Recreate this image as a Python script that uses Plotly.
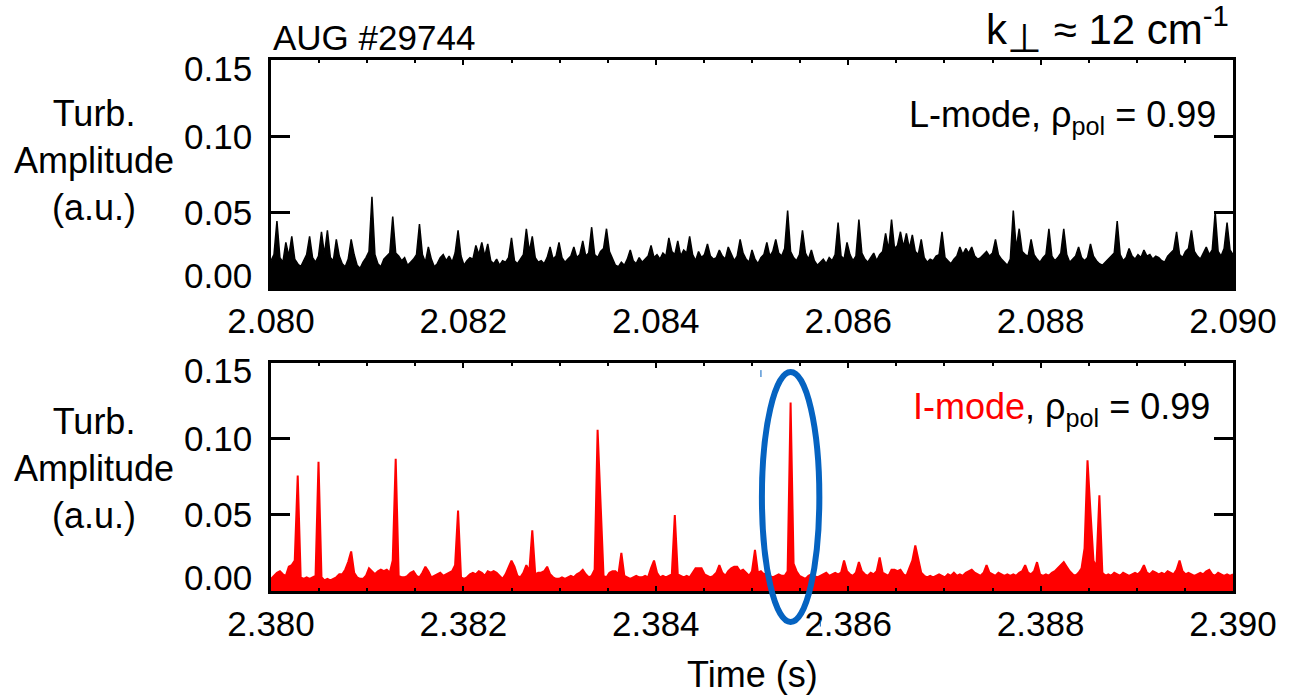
import numpy as np
import plotly.graph_objects as go
from plotly.subplots import make_subplots

# Turbulence amplitude envelopes, in units of 1e-3 (a.u.), sampled on a uniform time grid
amp_lmode_milli = [
    18, 22, 44, 20, 17, 30, 21, 34, 19, 16, 14, 18, 22, 34, 20, 17, 21, 37, 22, 38, 20, 18, 32, 21, 16,
    14, 19, 32, 22, 15, 13, 17, 20, 24, 60, 22, 16, 14, 19, 21, 23, 47, 23, 21, 18, 20, 15, 17, 19, 22,
    42, 22, 17, 27, 19, 14, 16, 20, 22, 18, 21, 17, 23, 38, 21, 15, 18, 20, 19, 28, 22, 30, 21, 29, 18,
    16, 19, 15, 18, 17, 20, 33, 18, 16, 19, 22, 39, 24, 34, 20, 17, 18, 16, 20, 27, 19, 21, 30, 20, 17,
    19, 21, 27, 20, 22, 31, 21, 23, 40, 22, 20, 24, 26, 39, 24, 19, 15, 14, 17, 15, 19, 25, 18, 16, 20,
    17, 19, 21, 28, 20, 22, 19, 23, 21, 33, 24, 22, 31, 21, 25, 23, 34, 22, 18, 24, 20, 22, 29, 21, 19,
    20, 25, 21, 19, 27, 22, 18, 21, 32, 23, 19, 17, 25, 19, 16, 20, 22, 30, 21, 24, 32, 23, 21, 26, 51,
    24, 20, 18, 22, 38, 23, 19, 25, 18, 15, 17, 19, 16, 20, 18, 22, 43, 21, 19, 30, 22, 18, 21, 45, 23,
    19, 17, 20, 23, 18, 22, 24, 36, 25, 45, 26, 28, 37, 27, 36, 26, 35, 24, 22, 32, 20, 17, 19, 18, 21,
    22, 37, 20, 18, 16, 19, 21, 27, 22, 26, 23, 27, 21, 19, 20, 22, 24, 21, 23, 32, 22, 19, 17, 15, 19,
    51, 26, 39, 24, 22, 21, 32, 22, 19, 17, 20, 22, 39, 21, 18, 20, 23, 39, 22, 17, 19, 21, 27, 20, 18,
    20, 29, 21, 18, 16, 15, 17, 19, 21, 23, 44, 22, 18, 20, 26, 21, 19, 22, 20, 25, 21, 22, 19, 21, 20,
    18, 17, 21, 23, 25, 37, 22, 20, 24, 26, 38, 24, 21, 19, 23, 27, 22, 25, 50, 24, 21, 26, 43, 25, 22,
]

amp_imode_milli = [
    8, 10, 12, 13, 11, 10, 16, 17, 20, 76, 9, 8, 9, 8, 9, 10, 85, 9, 7, 8, 7, 8, 9, 11, 11,
    14, 19, 26, 12, 9, 8, 8, 10, 15, 13, 11, 13, 14, 13, 14, 12, 20, 87, 10, 9, 9, 10, 12, 13, 10,
    9, 12, 16, 13, 9, 10, 11, 12, 10, 11, 12, 13, 17, 53, 9, 8, 9, 11, 12, 11, 13, 12, 10, 13, 12,
    13, 12, 10, 8, 11, 15, 20, 16, 10, 9, 12, 17, 13, 40, 11, 12, 12, 13, 16, 11, 9, 8, 8, 9, 8,
    9, 10, 9, 11, 12, 14, 11, 9, 10, 14, 106, 52, 10, 9, 12, 13, 13, 11, 25, 10, 9, 8, 9, 10, 9,
    9, 10, 9, 15, 20, 12, 9, 10, 9, 10, 11, 50, 11, 10, 9, 10, 9, 12, 15, 15, 15, 11, 10, 9, 10,
    12, 17, 12, 10, 13, 15, 16, 16, 13, 14, 12, 10, 13, 27, 12, 13, 11, 12, 10, 9, 10, 11, 10, 10, 13,
    124, 18, 13, 10, 9, 8, 10, 11, 10, 9, 10, 11, 12, 10, 11, 12, 11, 12, 20, 13, 11, 10, 12, 19, 13,
    11, 10, 12, 11, 13, 22, 12, 11, 10, 14, 14, 13, 14, 11, 10, 15, 20, 30, 21, 12, 10, 9, 10, 9, 10,
    11, 10, 9, 11, 10, 12, 10, 11, 10, 12, 13, 14, 12, 11, 10, 12, 17, 12, 11, 10, 12, 11, 10, 11, 10,
    11, 10, 12, 13, 17, 12, 11, 13, 19, 11, 10, 11, 10, 12, 13, 15, 17, 19, 16, 13, 11, 10, 12, 15, 28,
    86, 52, 20, 16, 63, 12, 10, 11, 10, 12, 11, 10, 12, 11, 10, 11, 12, 11, 13, 17, 12, 11, 13, 12, 11,
    12, 11, 13, 12, 11, 14, 20, 13, 11, 12, 11, 10, 11, 12, 11, 13, 14, 11, 10, 12, 11, 10, 11, 10, 11,
]

# Time windows (s)
lmode_window = [2.080, 2.090]
imode_window = [2.380, 2.390]

# Axis ticks
y_tick_vals = [0.00, 0.05, 0.10, 0.15]
y_tick_text = ["0.00", "0.05", "0.10", "0.15"]
x_tick_step = 0.002

FONT = "Liberation Sans, Arial, Helvetica, sans-serif"

amp_l = np.array(amp_lmode_milli) * 1e-3
amp_i = np.array(amp_imode_milli) * 1e-3
t_l = np.linspace(lmode_window[0], lmode_window[1], len(amp_l))
t_i = np.linspace(imode_window[0], imode_window[1], len(amp_i))

fig = make_subplots(rows=2, cols=1, vertical_spacing=0.1412)
fig.update_layout(
    width=1289, height=697,
    margin=dict(l=271, r=46, t=60, b=106),
    paper_bgcolor="white", plot_bgcolor="white",
    showlegend=False,
    font=dict(family=FONT, size=34, color="black"),
)
fig.update_yaxes(domain=[0.5706, 1.0], row=1, col=1)
fig.update_yaxes(domain=[0.0, 0.4294], row=2, col=1)

fig.add_trace(go.Scatter(
    x=t_l, y=amp_l, mode="lines",
    line=dict(color="black", width=1.5),
    fill="tozeroy", fillcolor="black",
), row=1, col=1)

fig.add_trace(go.Scatter(
    x=t_i, y=amp_i, mode="lines",
    line=dict(color="#FF0000", width=2),
    fill="tozeroy", fillcolor="#FF0000",
), row=2, col=1)

for r, win in ((1, lmode_window), (2, imode_window)):
    ticks = np.round(np.arange(win[0], win[1] + 1e-9, x_tick_step), 3)
    fig.update_xaxes(
        range=win, tickvals=ticks, tickformat=".3f",
        showline=True, linewidth=3, linecolor="black", mirror="allticks",
        ticks="inside", ticklen=5, tickwidth=2, tickcolor="black",
        minor=dict(dtick=0.0005, ticks="inside", ticklen=3, tickwidth=1.5, tickcolor="black"),
        showgrid=False, zeroline=False,
        tickfont=dict(family=FONT, size=35),
        row=r, col=1,
    )
    fig.update_yaxes(
        range=[0, 0.15], tickvals=y_tick_vals, showticklabels=False,
        showline=True, linewidth=3, linecolor="black", mirror="allticks",
        ticks="inside", ticklen=19, tickwidth=3, tickcolor="black",
        showgrid=False, zeroline=False,
        row=r, col=1,
    )

# y tick labels (end labels pulled inward)
shifts = {0.00: 13, 0.05: 0, 0.10: 0, 0.15: -8}
for xr, yr in (("x", "y"), ("x2", "y2")):
    for v, txt in zip(y_tick_vals, y_tick_text):
        fig.add_annotation(
            text=txt, xref=f"{xr} domain", x=0, xanchor="right", xshift=-17,
            yref=yr, y=v, yanchor="middle", yshift=shifts[v],
            showarrow=False, font=dict(family=FONT, size=35),
        )

# y-axis titles
for yp in (0.81, 0.23):
    fig.add_annotation(
        text="Turb.<br>Amplitude<br>(a.u.)", xref="paper", x=-0.184, xanchor="center",
        yref="paper", y=yp, yanchor="middle", showarrow=False,
        font=dict(family=FONT, size=36),
    )

fig.add_annotation(
    text="Time (s)", xref="paper", x=0.5, xanchor="center",
    yref="paper", y=-0.158, yanchor="middle", showarrow=False,
    font=dict(family=FONT, size=36),
)

fig.add_annotation(
    text="AUG #29744", xref="paper", x=0, xanchor="left",
    yref="paper", y=1.0433, yanchor="middle", showarrow=False,
    font=dict(family=FONT, size=35),
)

fig.add_annotation(
    text="k<sub><span style='font-size:40px'>⊥</span></sub> ≈ 12 cm<sup>-1</sup>",
    xref="paper", x=0.9975, xanchor="right",
    yref="paper", y=1.0565, yanchor="middle", showarrow=False,
    font=dict(family=FONT, size=42),
)

fig.add_annotation(
    text="L-mode, ρ<sub>pol</sub> = 0.99", xref="x domain", x=1, xanchor="right", xshift=-15,
    yref="y domain", y=0.752, yanchor="middle", showarrow=False,
    font=dict(family=FONT, size=36),
)
fig.add_annotation(
    text="<span style='color:#FF0000'>I-mode</span>, ρ<sub>pol</sub> = 0.99",
    xref="x2 domain", x=1, xanchor="right", xshift=-21,
    yref="y2 domain", y=0.80, yanchor="middle", showarrow=False,
    font=dict(family=FONT, size=36),
)

# Highlight around the large I-mode burst
fig.add_shape(
    type="circle", xref="paper", yref="paper",
    x0=0.5103, x1=0.5700, y0=-0.0584, y1=0.4124,
    line=dict(color="#0563C1", width=6), fillcolor="rgba(0,0,0,0)",
)
fig.add_shape(type="line", xref="paper", yref="paper",
              x0=0.5093, x1=0.5093, y0=0.403, y1=0.416,
              line=dict(color="#0563C1", width=1))
fig.add_shape(type="line", xref="paper", yref="paper",
              x0=0.5710, x1=0.5710, y0=-0.055, y1=-0.067,
              line=dict(color="#0563C1", width=1))

fig.write_html("out.html")
